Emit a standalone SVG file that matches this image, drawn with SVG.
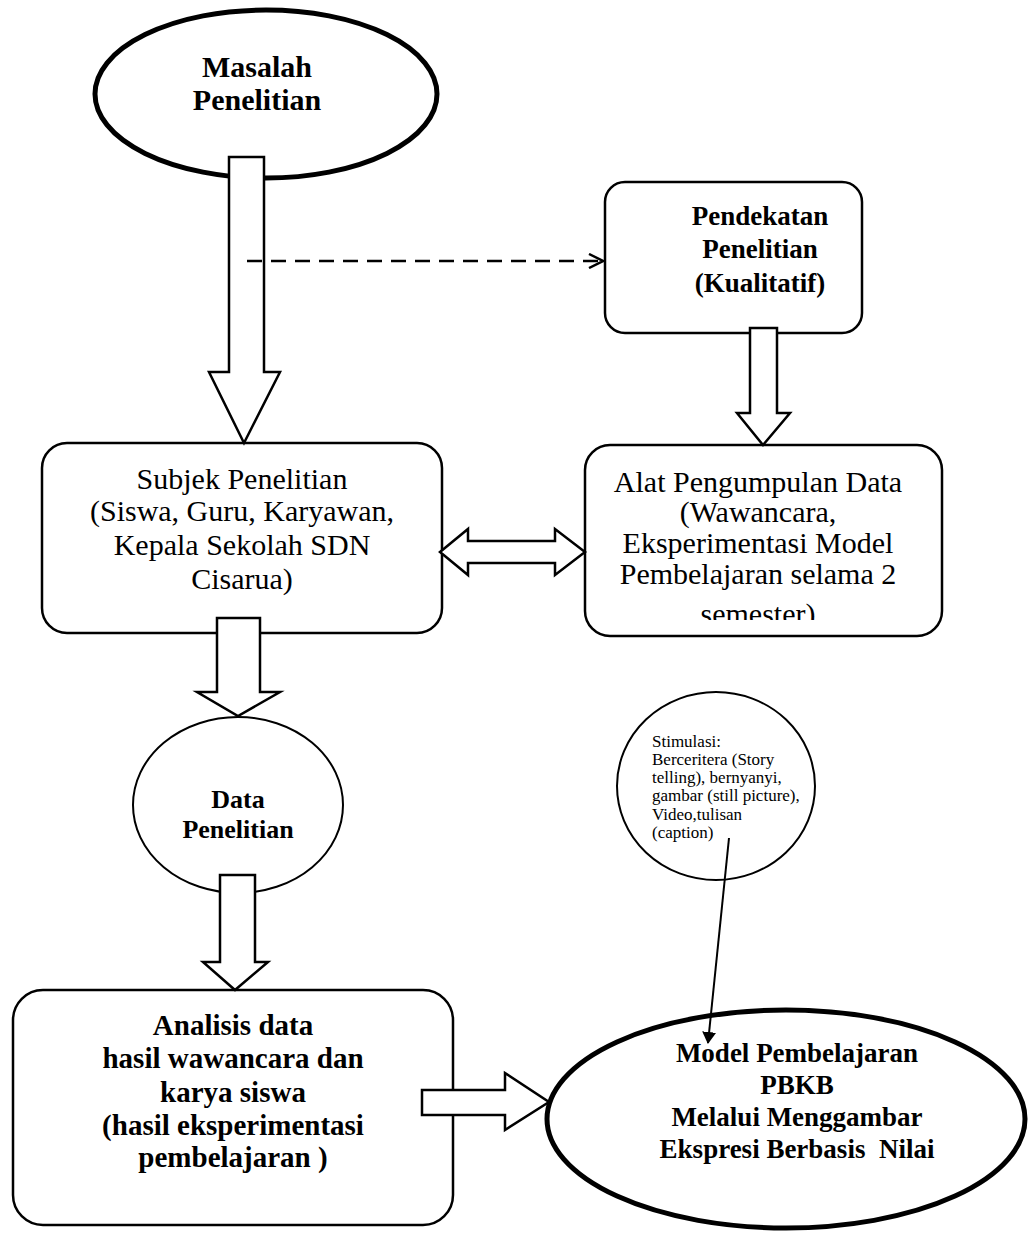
<svg xmlns="http://www.w3.org/2000/svg" width="1029" height="1233" viewBox="0 0 1029 1233">
<defs>
<style>
.bg{fill:#fff}
.box{fill:#fff;stroke:#000;stroke-width:2.5}
.thick{fill:#fff;stroke:#000;stroke-width:5}
.thin{fill:#fff;stroke:#000;stroke-width:2}
.arr{fill:#fff;stroke:#000;stroke-width:2.5;stroke-linejoin:miter}
.b{font-family:"Liberation Serif","Times New Roman",serif;font-weight:bold;fill:#000;text-anchor:middle}
.r{font-family:"Liberation Serif","Times New Roman",serif;fill:#000;text-anchor:middle}
.s{font-family:"Liberation Serif","Times New Roman",serif;fill:#000;font-size:17px}
</style>
<marker id="open" viewBox="0 0 16 16" refX="15" refY="8" markerWidth="16" markerHeight="16" markerUnits="userSpaceOnUse" orient="auto">
<path d="M1,1 L15,8 L1,15" fill="none" stroke="#000" stroke-width="2.5"/>
</marker>
<marker id="solid" viewBox="0 0 12 14" refX="11" refY="7" markerWidth="12" markerHeight="14" markerUnits="userSpaceOnUse" orient="auto">
<path d="M0,0 L12,7 L0,14 Z" fill="#000"/>
</marker>
<clipPath id="alatClip"><rect x="585" y="445" width="357" height="175"/></clipPath>
</defs>
<rect class="bg" x="0" y="0" width="1029" height="1233"/>

<g id="masalah">
<ellipse class="thick" cx="266" cy="94" rx="171" ry="84"/>
<text class="b" font-size="30" x="257" y="77">Masalah</text>
<text class="b" font-size="30" x="257" y="110">Penelitian</text>
</g>

<g id="pendekatan">
<rect class="box" x="605" y="182" width="257" height="151" rx="20"/>
<text class="b" font-size="27" x="760" y="225">Pendekatan</text>
<text class="b" font-size="27" x="760" y="258">Penelitian</text>
<text class="b" font-size="27" x="760" y="292">(Kualitatif)</text>
</g>

<g id="subjek">
<rect class="box" x="42" y="443" width="400" height="190" rx="25"/>
<text class="r" font-size="30" x="242" y="489">Subjek Penelitian</text>
<text class="r" font-size="30" x="242" y="521">(Siswa, Guru, Karyawan,</text>
<text class="r" font-size="30" x="242" y="555">Kepala Sekolah SDN</text>
<text class="r" font-size="30" x="242" y="589">Cisarua)</text>
</g>

<g id="alat">
<rect class="box" x="585" y="445" width="357" height="191" rx="25"/>
<g clip-path="url(#alatClip)">
<text class="r" font-size="30" x="758" y="492">Alat Pengumpulan Data</text>
<text class="r" font-size="30" x="758" y="522">(Wawancara,</text>
<text class="r" font-size="30" x="758" y="553">Eksperimentasi Model</text>
<text class="r" font-size="30" x="758" y="584">Pembelajaran selama 2</text>
<text class="r" font-size="30" x="758" y="624">semester)</text>
</g>
</g>

<g id="data">
<ellipse class="thin" cx="238" cy="805" rx="105" ry="88"/>
<text class="b" font-size="26" x="238" y="808">Data</text>
<text class="b" font-size="26" x="238" y="838">Penelitian</text>
</g>

<g id="stimulasi">
<ellipse class="thin" cx="716" cy="786" rx="99" ry="94"/>
<text class="s" x="652" y="747">Stimulasi:</text>
<text class="s" x="652" y="765">Berceritera (Story</text>
<text class="s" x="652" y="783">telling), bernyanyi,</text>
<text class="s" x="652" y="801">gambar (still picture),</text>
<text class="s" x="652" y="820">Video,tulisan</text>
<text class="s" x="652" y="838">(caption)</text>
</g>

<g id="analisis">
<rect class="box" x="13" y="990" width="440" height="235" rx="30"/>
<text class="b" font-size="29" x="233" y="1035">Analisis data</text>
<text class="b" font-size="29" x="233" y="1068">hasil wawancara dan</text>
<text class="b" font-size="29" x="233" y="1102">karya siswa</text>
<text class="b" font-size="29" x="233" y="1135">(hasil eksperimentasi</text>
<text class="b" font-size="29" x="233" y="1167">pembelajaran )</text>
</g>

<g id="model">
<ellipse class="thick" cx="786" cy="1119" rx="239" ry="109"/>
<text class="b" font-size="27" x="797" y="1062">Model Pembelajaran</text>
<text class="b" font-size="27" x="797" y="1094">PBKB</text>
<text class="b" font-size="27" x="797" y="1126">Melalui Menggambar</text>
<text class="b" font-size="27" x="797" y="1158" xml:space="preserve">Ekspresi Berbasis  Nilai</text>
</g>

<g id="connectors">
<path class="arr" d="M229,157 L264,157 L264,372 L280,372 L244,443 L209,372 L229,372 Z"/>
<line x1="247" y1="261" x2="603" y2="261" stroke="#000" stroke-width="2.5" stroke-dasharray="15,9" marker-end="url(#open)"/>
<path class="arr" d="M750,328 L777,328 L777,413 L790,413 L763,445 L737,413 L750,413 Z"/>
<path class="arr" d="M440,552 L468,529 L468,541 L555,541 L555,529 L585,552 L555,575 L555,563 L468,563 L468,575 Z"/>
<path class="arr" d="M217,618 L260,618 L260,692 L280,692 L238,716 L197,692 L217,692 Z"/>
<path class="arr" d="M220,875 L255,875 L255,962 L268,962 L235,990 L203,962 L220,962 Z"/>
<path class="arr" d="M422,1090 L505,1090 L505,1073 L549,1102 L505,1130 L505,1115 L422,1115 Z"/>
<line x1="729" y1="838" x2="708" y2="1043" stroke="#000" stroke-width="2" marker-end="url(#solid)"/>
</g>
</svg>
